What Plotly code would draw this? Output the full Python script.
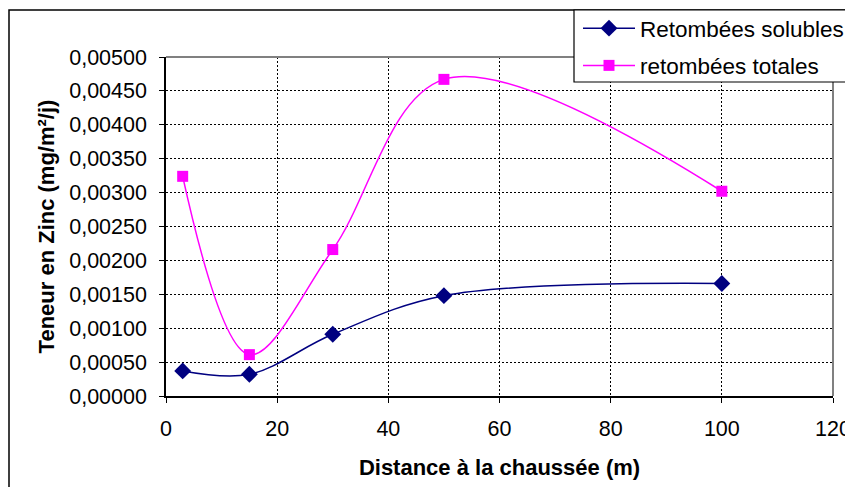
import plotly.graph_objects as go

distance = [3, 15, 30, 50, 100]
solubles = [0.00037, 0.00032, 0.00091, 0.00148, 0.00166]
totales = [0.00324, 0.00061, 0.00216, 0.00467, 0.00302]

x_ticks = [0, 20, 40, 60, 80, 100, 120]
y_ticks = [i * 0.0005 for i in range(11)]

FONT = "Liberation Sans, Arial, sans-serif"

fig = go.Figure()
fig.add_trace(go.Scatter(
    x=distance, y=solubles, name="Retombées solubles", mode="lines+markers",
    line=dict(color="#000080", width=1.5, shape="spline", smoothing=1),
    marker=dict(symbol="diamond", size=13, color="#000080"),
    legendgroup="a"))
fig.add_trace(go.Scatter(
    x=distance, y=totales, name="retombées totales", mode="lines+markers",
    line=dict(color="#FF00FF", width=1.5, shape="spline", smoothing=1),
    marker=dict(symbol="square", size=11, color="#FF00FF"),
    legendgroup="b"))

# page body has an 8px margin: figure coordinates = picture coordinates - 8
OFF = 8
W, H = 853 - OFF, 487 - OFF
L, R, T, B = 166 - OFF, 833 - OFF, 57 - OFF, 396 - OFF
pw, ph = R - L, B - T

def px(xp):
    return (xp - OFF - L) / pw

def py(yp):
    return (B - (yp - OFF)) / ph

fig.update_layout(
    width=W, height=H,
    margin=dict(l=L, r=W - R, t=T, b=H - B, autoexpand=False),
    paper_bgcolor="white", plot_bgcolor="white",
    separators=", ",
    font=dict(family=FONT, size=21.5, color="black"),
    showlegend=True,
    legend=dict(
        x=px(578), y=py(7), xanchor="left", yanchor="top",
        borderwidth=0, bgcolor="rgba(0,0,0,0)",
        font=dict(size=22.5), itemwidth=52, tracegroupgap=5,
    ),
    xaxis=dict(
        range=[0, 120], tickvals=x_ticks, ticks="outside", ticklen=5,
        tickcolor="black", showline=True, linecolor="black", linewidth=1.5,
        showgrid=True, gridcolor="black", gridwidth=1, griddash="2px,2px",
        zeroline=False, tickfont=dict(size=21.5), ticklabelstandoff=7,
        title=dict(text="<b>Distance à la chaussée (m)</b>", font=dict(size=22), standoff=20),
    ),
    yaxis=dict(
        range=[0, 0.005], tickvals=y_ticks, tickformat=".5f", ticks="outside",
        ticklen=5, tickcolor="black", showline=True, linecolor="black", linewidth=1.5,
        showgrid=True, gridcolor="black", gridwidth=1, griddash="2px,2px",
        zeroline=False, tickfont=dict(size=21.5), ticklabelstandoff=8,
        title=dict(text="<b>Teneur en Zinc (mg/m²/j)</b>", font=dict(size=22), standoff=9),
    ),
    shapes=[
        dict(type="line", xref="paper", yref="paper", x0=0, x1=1, y0=1, y1=1,
             line=dict(color="#808080", width=2)),
        dict(type="line", xref="paper", yref="paper", x0=1, x1=1, y0=0, y1=1,
             line=dict(color="#808080", width=2)),
        dict(type="rect", xref="paper", yref="paper", x0=px(9), x1=px(900),
             y0=py(560), y1=py(10), line=dict(color="black", width=1.5),
             layer="below"),
        dict(type="rect", xref="paper", yref="paper", x0=px(574), x1=px(900),
             y0=py(82), y1=py(10), line=dict(color="black", width=1.2),
             fillcolor="white", layer="above"),
    ],
)

fig.write_html("out.html")
